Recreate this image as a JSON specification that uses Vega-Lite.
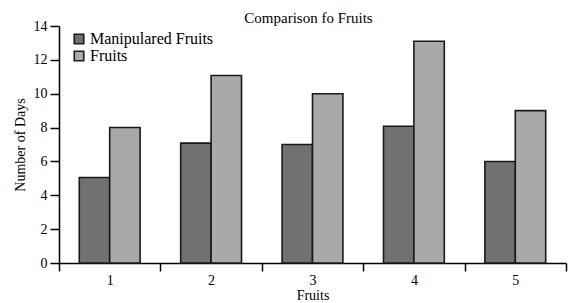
{
  "$schema": "https://vega.github.io/schema/vega-lite/v6.json",
  "autosize": "none",
  "padding": {"left": 59, "top": 26, "right": 2, "bottom": 40},
  "width": 507,
  "height": 237,
  "background": "white",
  "config": {
    "font": "Liberation Serif",
    "view": {"stroke": null}
  },
  "title": {
    "text": "Comparison fo Fruits",
    "font": "Liberation Serif",
    "fontSize": 15,
    "fontWeight": "normal",
    "color": "black",
    "offset": -7,
    "dx": -4,
    "anchor": "middle",
    "frame": "group"
  },
  "data": {
    "values": [
      {"fruit": "1", "series": "Manipulared Fruits", "days": 5.05},
      {"fruit": "1", "series": "Fruits", "days": 8.0},
      {"fruit": "2", "series": "Manipulared Fruits", "days": 7.08},
      {"fruit": "2", "series": "Fruits", "days": 11.08},
      {"fruit": "3", "series": "Manipulared Fruits", "days": 7.0},
      {"fruit": "3", "series": "Fruits", "days": 10.0},
      {"fruit": "4", "series": "Manipulared Fruits", "days": 8.08},
      {"fruit": "4", "series": "Fruits", "days": 13.1},
      {"fruit": "5", "series": "Manipulared Fruits", "days": 6.0},
      {"fruit": "5", "series": "Fruits", "days": 9.0}
    ]
  },
  "mark": {"type": "bar", "stroke": "#1a1a1a", "strokeWidth": 1.6},
  "encoding": {
    "x": {
      "field": "fruit",
      "type": "ordinal",
      "title": "Fruits",
      "scale": {"paddingInner": 0, "paddingOuter": 0},
      "axis": {
        "tickBand": "extent",
        "labelAngle": 0,
        "labelFont": "Liberation Serif",
        "labelFontSize": 14,
        "labelColor": "black",
        "titleFont": "Liberation Serif",
        "titleFontSize": 14,
        "titleFontWeight": "normal",
        "titleColor": "black",
        "titlePadding": 1,
        "labelPadding": 2,
        "tickSize": 8,
        "tickWidth": 1.5,
        "tickColor": "black",
        "domainColor": "black",
        "domainWidth": 1.5
      }
    },
    "xOffset": {
      "field": "series",
      "sort": ["Manipulared Fruits", "Fruits"],
      "scale": {"paddingInner": 0, "paddingOuter": 0.667}
    },
    "y": {
      "field": "days",
      "type": "quantitative",
      "title": "Number of Days",
      "scale": {"domain": [0, 14], "nice": false},
      "axis": {
        "values": [0, 2, 4, 6, 8, 10, 12, 14],
        "grid": false,
        "labelFont": "Liberation Serif",
        "labelFontSize": 14,
        "labelColor": "black",
        "titleFont": "Liberation Serif",
        "titleFontSize": 14,
        "titleFontWeight": "normal",
        "titleColor": "black",
        "titlePadding": 6,
        "labelPadding": 3,
        "tickSize": 9,
        "tickWidth": 1.5,
        "tickColor": "black",
        "domainColor": "black",
        "domainWidth": 1.5
      }
    },
    "color": {
      "field": "series",
      "type": "nominal",
      "sort": ["Manipulared Fruits", "Fruits"],
      "scale": {"domain": ["Manipulared Fruits", "Fruits"], "range": ["#717171", "#a9a9a9"]},
      "legend": {
        "title": null,
        "orient": "none",
        "legendX": 12,
        "legendY": 5,
        "symbolType": "square",
        "symbolSize": 90,
        "symbolStrokeColor": "#1a1a1a",
        "symbolStrokeWidth": 1.6,
        "labelFont": "Liberation Serif",
        "labelFontSize": 16,
        "labelColor": "black",
        "labelOffset": 3,
        "rowPadding": 1
      }
    }
  }
}
